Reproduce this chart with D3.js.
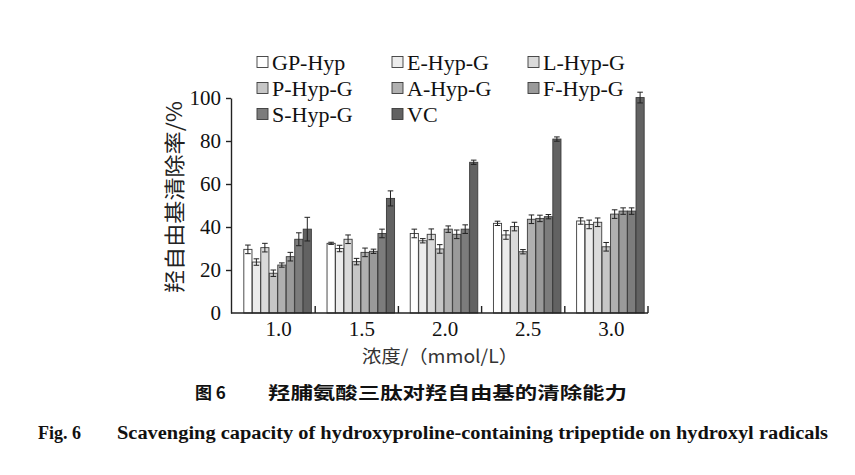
<!DOCTYPE html>
<html>
<head>
<meta charset="utf-8">
<script src="https://cdn.jsdelivr.net/npm/d3@7"></script>
<style>
  body { margin: 0; background: #fff; }
  svg { display: block; }
</style>
</head>
<body>
<div id="chart"></div>
<script>
// concentrations (mmol/L) and peptides
const doses = ["1.0", "1.5", "2.0", "2.5", "3.0"];
const peptides = ["GP-Hyp", "E-Hyp-G", "L-Hyp-G", "P-Hyp-G", "A-Hyp-G", "F-Hyp-G", "S-Hyp-G", "VC"];
const fills = ["#ffffff", "#ececec", "#dadada", "#c6c6c6", "#b0b0b0", "#9a9a9a", "#7c7c7c", "#626262"];

// scavenging rate (%) per peptide, one value per dose
const rateGP = [29.6, 32.4, 37.0, 41.7, 42.8];
const rateE  = [23.7, 30.0, 33.6, 36.3, 41.2];
const rateL  = [30.4, 34.3, 36.6, 40.2, 42.2];
const rateP  = [18.5, 23.9, 29.8, 28.5, 30.8];
const rateA  = [22.3, 28.2, 39.0, 43.6, 46.0];
const rateF  = [26.2, 28.7, 36.6, 44.0, 47.4];
const rateS  = [34.3, 37.0, 39.0, 44.8, 47.4];
const rateVC = [39.0, 53.3, 70.1, 80.9, 100.2];

// error bars (± %)
const errGP = [2.0, 0.5, 2.0, 1.0, 1.5];
const errE  = [1.5, 1.5, 1.0, 2.0, 2.0];
const errL  = [2.0, 2.0, 2.5, 2.0, 2.0];
const errP  = [1.5, 1.5, 2.0, 1.0, 2.0];
const errA  = [1.0, 2.0, 1.5, 2.0, 2.0];
const errF  = [2.0, 1.0, 2.0, 1.5, 1.5];
const errS  = [3.0, 2.0, 2.0, 1.0, 1.5];
const errVC = [5.5, 3.5, 1.0, 1.0, 2.5];

const yTicks = [0, 20, 40, 60, 80, 100];

const rates = [rateGP, rateE, rateL, rateP, rateA, rateF, rateS, rateVC];
const errs  = [errGP, errE, errL, errP, errA, errF, errS, errVC];

const W = 855, H = 475;
const serif = "'Liberation Serif','Times New Roman',serif";
const cjk = "'Noto Sans CJK SC',sans-serif";

const svg = d3.select("#chart").append("svg")
  .attr("width", W).attr("height", H)
  .attr("viewBox", `0 0 ${W} ${H}`);

const axisL = 231, axisR = 648;
const x0 = d3.scaleBand().domain(doses).range([236, 652]).paddingInner(0.18).paddingOuter(0.09);
const x1 = d3.scaleBand().domain(peptides).range([0, x0.bandwidth()]).padding(0.04);
const y = d3.scaleLinear().domain([0, 100]).range([313, 98]);

// bars
const rows = [];
doses.forEach((d, i) => peptides.forEach((p, j) =>
  rows.push({ dose: d, pep: p, j, v: rates[j][i], e: errs[j][i] })));

const g = svg.append("g");
g.selectAll("rect.bar").data(rows).join("rect")
  .attr("class", "bar")
  .attr("x", d => x0(d.dose) + x1(d.pep))
  .attr("y", d => y(d.v))
  .attr("width", x1.bandwidth())
  .attr("height", d => y(0) - y(d.v))
  .attr("fill", d => fills[d.j])
  .attr("stroke", "#3a3a3a").attr("stroke-width", 0.9);

// error bars
const eb = g.selectAll("g.err").data(rows).join("g").attr("class", "err")
  .attr("stroke", "#222").attr("stroke-width", 1);
const cx = d => x0(d.dose) + x1(d.pep) + x1.bandwidth() / 2;
eb.append("line").attr("x1", cx).attr("x2", cx)
  .attr("y1", d => y(d.v - d.e)).attr("y2", d => y(d.v + d.e));
eb.append("line").attr("x1", d => cx(d) - 2.8).attr("x2", d => cx(d) + 2.8)
  .attr("y1", d => y(d.v + d.e)).attr("y2", d => y(d.v + d.e));
eb.append("line").attr("x1", d => cx(d) - 2.8).attr("x2", d => cx(d) + 2.8)
  .attr("y1", d => y(d.v - d.e)).attr("y2", d => y(d.v - d.e));

// y axis
const ya = svg.append("g").attr("transform", `translate(${axisL},0)`)
  .call(d3.axisLeft(y).tickValues(yTicks).tickSize(5).tickSizeOuter(0).tickPadding(5))
  .call(a => a.select(".domain").attr("stroke", "#222").attr("stroke-width", 1.4))
  .call(a => a.selectAll(".tick line").attr("stroke", "#222").attr("stroke-width", 1.4))
  .call(a => a.selectAll("text").attr("fill", "#111").attr("font-size", 21)
    .attr("font-family", serif));
ya.select(".tick line").remove(); // no tick at 0

// x axis baseline with separator ticks
const xa = svg.append("g");
xa.append("line").attr("x1", axisL).attr("x2", axisR)
  .attr("y1", y(0)).attr("y2", y(0)).attr("stroke", "#222").attr("stroke-width", 1.4);
const seps = doses.slice(1).map(d => x0(d) - x0.step() * x0.paddingInner() / 2 - 4);
seps.push(axisR);
xa.selectAll("line.sep").data(seps).join("line").attr("class", "sep")
  .attr("x1", d => d).attr("x2", d => d)
  .attr("y1", y(0)).attr("y2", y(0) - 7)
  .attr("stroke", "#222").attr("stroke-width", 1.4);
xa.selectAll("text").data(doses).join("text")
  .attr("x", d => x0(d) + x0.bandwidth() / 2 + 1)
  .attr("y", 336)
  .attr("text-anchor", "middle")
  .attr("font-family", serif).attr("font-size", 21).attr("fill", "#111")
  .text(d => d);

// axis titles
svg.append("text")
  .attr("transform", `translate(182,197) rotate(-90)`)
  .attr("text-anchor", "middle")
  .attr("font-family", cjk).attr("font-size", 21).attr("fill", "#222")
  .attr("textLength", 192).attr("lengthAdjust", "spacingAndGlyphs")
  .text("羟自由基清除率/%");
svg.append("text")
  .attr("x", 440).attr("y", 363).attr("text-anchor", "middle")
  .attr("font-family", cjk).attr("font-size", 18).attr("fill", "#333")
  .attr("textLength", 156).attr("lengthAdjust", "spacingAndGlyphs")
  .text("浓度/（mmol/L）");

// legend
const legCols = [257, 392, 528];
const legRows = [62, 88, 114];
const leg = svg.append("g").selectAll("g").data(peptides).join("g")
  .attr("transform", (d, i) => `translate(${legCols[i % 3]},${legRows[Math.floor(i / 3)]})`);
leg.append("rect").attr("x", 0).attr("y", -5.5).attr("width", 11).attr("height", 11)
  .attr("fill", (d, i) => fills[i]).attr("stroke", "#3a3a3a").attr("stroke-width", 0.9);
leg.append("text").attr("x", 15).attr("y", 7.5)
  .attr("font-family", serif).attr("font-size", 22).attr("fill", "#111")
  .text(d => d);

// captions
svg.append("text").attr("x", 195).attr("y", 399)
  .attr("font-family", cjk).attr("font-weight", "bold").attr("font-size", 17).attr("fill", "#111")
  .text("图 6");
svg.append("text").attr("x", 268).attr("y", 399)
  .attr("font-family", cjk).attr("font-weight", "bold").attr("font-size", 17).attr("fill", "#111")
  .attr("textLength", 359).attr("lengthAdjust", "spacingAndGlyphs")
  .text("羟脯氨酸三肽对羟自由基的清除能力");
svg.append("text").attr("x", 38).attr("y", 439)
  .attr("font-family", serif).attr("font-weight", "bold").attr("font-size", 18).attr("fill", "#111")
  .text("Fig. 6");
svg.append("text").attr("x", 117).attr("y", 439)
  .attr("font-family", serif).attr("font-weight", "bold").attr("font-size", 18).attr("fill", "#111")
  .attr("textLength", 711).attr("lengthAdjust", "spacingAndGlyphs")
  .text("Scavenging capacity of hydroxyproline-containing tripeptide on  hydroxyl radicals");
</script>
</body>
</html>
